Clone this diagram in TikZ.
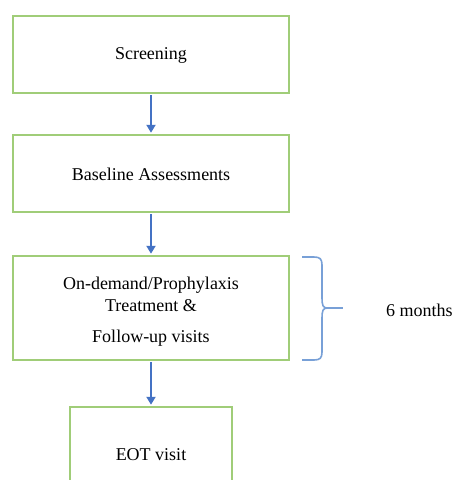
\documentclass[tikz,border=0pt]{standalone}
\usepackage{fontspec}
\setmainfont{Liberation Serif}
\usetikzlibrary{arrows.meta}
\definecolor{boxgreen}{RGB}{160,205,120}
\definecolor{arrowblue}{RGB}{68,114,196}
\definecolor{braceblue}{RGB}{120,160,215}
\tikzset{
  stagebox/.style={draw=boxgreen, line width=2.5pt, fill=white, minimum width=276pt, inner sep=0pt},
  lbl/.style={font=\fontsize{18}{22}\selectfont, inner sep=0pt, align=center},
  flow/.style={draw=arrowblue, line width=2pt, -{Triangle[length=8pt,width=9pt]}, shorten <=1pt, shorten >=1pt},
}
\begin{document}
\begin{tikzpicture}[x=1pt,y=-1pt]
\clip (0,0) rectangle (453,480);
\fill[white] (0,0) rectangle (453,480);
\node[stagebox, minimum height=77pt] (b1) at (151,54.5) {};
\node[lbl] (t1) at (151,55) {Screening};
\node[stagebox, minimum height=77pt] (b2) at (151,173.5) {};
\node[lbl] (t2) at (151,174) {Baseline Assessments};
\node[stagebox, minimum height=104pt] (b3) at (151,308) {};
\node[lbl] (t3) at (151,312) {On-demand/Prophylaxis\\Treatment \&\\[9pt]Follow-up visits};
\node[stagebox, minimum width=162pt, minimum height=92pt] (b4) at (151,453) {};
\node[lbl] (t4) at (151,455) {EOT visit};
\draw[flow] (b1.south) -- (b2.north);
\draw[flow] (b2.south) -- (b3.north);
\draw[flow] (b3.south) -- (b4.north);
\draw[braceblue, line width=1.6pt, line join=round]
  (302,257) -- (314,257) .. controls (320,257) and (322,259) .. (322,265)
  -- (322,298) .. controls (322,305) and (323,308) .. (327,308)
  .. controls (323,308) and (322,311) .. (322,318)
  -- (322,352) .. controls (322,358) and (320,360) .. (314,360) -- (302,360);
\coordinate (tip) at (327,308);
\coordinate (braceend) at (343,308);
\draw[braceblue, line width=1.6pt] (tip) -- (braceend);
\node[lbl, anchor=west] (t5) at (386,310) {6 months};
\end{tikzpicture}
\end{document}
